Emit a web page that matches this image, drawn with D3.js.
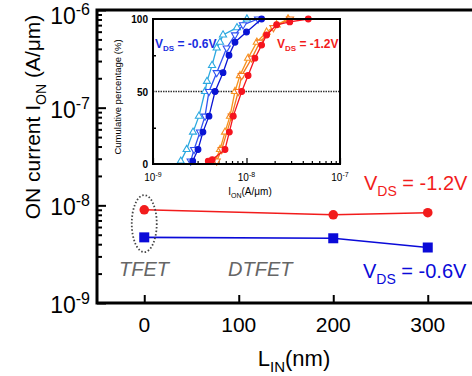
<!DOCTYPE html>
<html>
<head>
<meta charset="utf-8">
<script src="https://cdn.jsdelivr.net/npm/d3@7"></script>
<style>
  body { margin: 0; background: #fff; }
  svg { display: block; font-family: Arial, "Liberation Sans", sans-serif; }
</style>
</head>
<body>
<svg id="chart" width="472" height="376"></svg>
<script>
// main plot data
var lin = [0, 200, 300];
var ion12 = [9.0e-9, 8.0e-9, 8.4e-9];
var ion06 = [4.7e-9, 4.6e-9, 3.7e-9];
var xTicks = [0, 100, 200, 300];
var yDecades = [1e-9, 1e-8, 1e-7, 1e-6];
var yExp = ["-9", "-8", "-7", "-6"];

// inset: cumulative distributions (percent, current)
var cyanPct = [2, 10, 22, 33, 50, 57, 68, 80, 84, 89, 94, 100];
var cyanI = [1.98e-9, 2.29e-9, 2.68e-9, 3.10e-9, 3.60e-9, 3.78e-9, 4.28e-9, 4.80e-9, 5.21e-9, 5.61e-9, 7.91e-9, 1.01e-8];
var bluePct = [2, 10, 22, 33, 50, 63, 80, 89, 96, 100];
var blueI = [2.53e-9, 2.75e-9, 3.18e-9, 3.60e-9, 3.97e-9, 4.80e-9, 6.14e-9, 7.53e-9, 9.18e-9, 1.33e-8];
var navyPct = [2, 10, 22, 33, 50, 63, 75, 84, 91, 100];
var navyI = [2.66e-9, 3.03e-9, 3.42e-9, 3.97e-9, 4.61e-9, 5.61e-9, 6.50e-9, 7.53e-9, 1.00e-8, 1.45e-8];
var orangePct = [2, 10, 22, 33, 50, 61, 73, 84, 91, 96, 100];
var orangeI = [4.61e-9, 5.21e-9, 5.89e-9, 6.66e-9, 7.53e-9, 8.51e-9, 1.04e-8, 1.29e-8, 1.64e-8, 2.10e-8, 2.78e-8];
var amberPct = [2, 10, 33, 50, 61, 73, 84, 94, 100];
var amberI = [4.80e-9, 5.43e-9, 6.95e-9, 8.17e-9, 8.89e-9, 1.14e-8, 1.39e-8, 1.94e-8, 2.92e-8];
var redPct = [2, 3, 10, 22, 33, 50, 61, 73, 82, 89, 96, 98, 100];
var redI = [3.90e-9, 4.30e-9, 5.89e-9, 6.55e-9, 7.22e-9, 8.89e-9, 1.04e-8, 1.23e-8, 1.45e-8, 1.64e-8, 2.10e-8, 2.90e-8, 4.58e-8];
var insetXDecades = [1e-9, 1e-8, 1e-7];
var insetXExp = ["-9", "-8", "-7"];
var insetYTicks = [0, 50, 100];

var svg = d3.select("#chart");

// note: "top" is a reserved window property, so use mTop etc.
var mLeft = 97, mTop = 10, mBottom = 303, mRight = 475;
var x = d3.scaleLinear().domain([-50, 350]).range([mLeft, mRight]);
var y = d3.scaleLog().domain([1e-9, 1e-6]).range([mBottom, mTop]);

// minor ticks on the left axis
var minor = [];
yDecades.slice(0, 3).forEach(function(d) {
  for (var k = 2; k <= 9; k++) minor.push(d * k);
});

svg.append("g")
    .attr("transform", "translate(" + mLeft + ",0)")
    .call(d3.axisRight(y).tickValues(minor).tickSize(5).tickFormat(""))
    .call(function(g) { g.select(".domain").remove(); })
    .selectAll("line").attr("stroke-width", 2);

svg.append("g")
    .attr("transform", "translate(" + mLeft + ",0)")
    .call(d3.axisRight(y).tickValues(yDecades).tickSize(9).tickFormat(""))
    .call(function(g) { g.select(".domain").remove(); })
    .selectAll("line").attr("stroke-width", 2);

svg.append("g")
    .attr("transform", "translate(0," + mBottom + ")")
    .call(d3.axisTop(x).tickValues(xTicks).tickSize(8).tickFormat(""))
    .call(function(g) { g.select(".domain").remove(); })
    .selectAll("line").attr("stroke-width", 2);

// frame
svg.append("path")
    .attr("d", "M472," + mTop + "H" + mLeft + "V" + mBottom + "H472")
    .attr("fill", "none")
    .attr("stroke", "#000")
    .attr("stroke-width", 3);

// y tick labels with superscripts (top one nudged so it stays inside the page)
var yl = svg.append("g").selectAll("text")
  .data(yDecades)
  .enter().append("text")
    .attr("x", 90)
    .attr("y", function(d) { return Math.max(y(d) + 10, 24); })
    .attr("text-anchor", "end")
    .attr("font-size", "23px");
yl.append("tspan").text("10");
yl.append("tspan")
    .attr("dy", -9)
    .attr("font-size", "16px")
    .text(function(d, i) { return yExp[i]; });

svg.append("g").selectAll("text")
  .data(xTicks)
  .enter().append("text")
    .attr("x", function(d) { return x(d); })
    .attr("y", 332)
    .attr("text-anchor", "middle")
    .attr("font-size", "21px")
    .text(function(d) { return d; });

// axis titles
var xt = svg.append("text")
    .attr("x", 294)
    .attr("y", 366)
    .attr("text-anchor", "middle")
    .attr("font-size", "22px");
xt.append("tspan").text("L");
xt.append("tspan").attr("dy", 6).attr("font-size", "15px").text("IN");
xt.append("tspan").attr("dy", -6).text("(nm)");

var yt = svg.append("text")
    .attr("transform", "translate(40,117) rotate(-90)")
    .attr("text-anchor", "middle")
    .attr("font-size", "21px");
yt.append("tspan").text("ON current I");
yt.append("tspan").attr("dy", 6).attr("font-size", "14px").text("ON");
yt.append("tspan").attr("dy", -6).text(" (A/\u03bcm)");

// main series
var line = d3.line()
    .x(function(d) { return x(d[0]); })
    .y(function(d) { return y(d[1]); });

var red = lin.map(function(d, i) { return [d, ion12[i]]; });
var blue = lin.map(function(d, i) { return [d, ion06[i]]; });

svg.append("path").datum(red)
    .attr("d", line).attr("fill", "none").attr("stroke", "#f21c1c").attr("stroke-width", 1.6);
svg.append("path").datum(blue)
    .attr("d", line).attr("fill", "none").attr("stroke", "#0a0ad8").attr("stroke-width", 1.6);

svg.append("g").selectAll("circle")
  .data(red)
  .enter().append("circle")
    .attr("cx", function(d) { return x(d[0]); })
    .attr("cy", function(d) { return y(d[1]); })
    .attr("r", 4.8)
    .attr("fill", "#f21c1c");

svg.append("g").selectAll("rect")
  .data(blue)
  .enter().append("rect")
    .attr("x", function(d) { return x(d[0]) - 5; })
    .attr("y", function(d) { return y(d[1]) - 5; })
    .attr("width", 10)
    .attr("height", 10)
    .attr("fill", "#0a0ad8");

// dotted ellipse round the TFET points
svg.append("ellipse")
    .attr("cx", x(0))
    .attr("cy", (y(ion12[0]) + y(ion06[0])) / 2)
    .attr("rx", 12.5)
    .attr("ry", 28.5)
    .attr("fill", "none")
    .attr("stroke", "#444")
    .attr("stroke-width", 1.8)
    .attr("stroke-dasharray", "1.5,2");

svg.append("text")
    .attr("x", 119).attr("y", 276)
    .attr("font-size", "20px").attr("font-style", "italic").attr("fill", "#666")
    .text("TFET");
svg.append("text")
    .attr("x", 228).attr("y", 276)
    .attr("font-size", "20px").attr("font-style", "italic").attr("fill", "#666")
    .text("DTFET");

function vdsLabel(g, xx, yy, size, sub, val, color, weight) {
  var t = g.append("text")
      .attr("x", xx).attr("y", yy)
      .attr("font-size", size + "px")
      .attr("font-weight", weight)
      .attr("fill", color);
  t.append("tspan").text("V");
  t.append("tspan").attr("dy", size * 0.28).attr("font-size", sub + "px").text("DS");
  t.append("tspan").attr("dy", -size * 0.28).text(" = " + val);
}

vdsLabel(svg, 364, 190, 20, 14, "-1.2V", "#f21c1c", "normal");
vdsLabel(svg, 363, 278, 20, 14, "-0.6V", "#0a0ad8", "normal");

// ---------- inset ----------
var il = 153, ir = 340, it = 19, ib = 164;
var ix = d3.scaleLog().domain([1e-9, 1e-7]).range([il, ir]);
var iy = d3.scaleLinear().domain([0, 100]).range([ib, it]);
var inset = svg.append("g");

inset.append("rect")
    .attr("x", il).attr("y", it)
    .attr("width", ir - il).attr("height", ib - it)
    .attr("fill", "#fff");

var iminor = [];
insetXDecades.slice(0, 2).forEach(function(d) {
  for (var k = 2; k <= 9; k++) iminor.push(d * k);
});

inset.append("g")
    .attr("transform", "translate(0," + ib + ")")
    .call(d3.axisTop(ix).tickValues(iminor).tickSize(3).tickFormat(""))
    .call(function(g) { g.select(".domain").remove(); })
    .selectAll("line").attr("stroke-width", 1.2);
inset.append("g")
    .attr("transform", "translate(0," + ib + ")")
    .call(d3.axisTop(ix).tickValues(insetXDecades).tickSize(6).tickFormat(""))
    .call(function(g) { g.select(".domain").remove(); })
    .selectAll("line").attr("stroke-width", 1.2);
inset.append("g")
    .attr("transform", "translate(" + il + ",0)")
    .call(d3.axisRight(iy).tickValues([25, 75]).tickSize(3).tickFormat(""))
    .call(function(g) { g.select(".domain").remove(); })
    .selectAll("line").attr("stroke-width", 1.5);

inset.append("line")
    .attr("x1", il).attr("x2", ir)
    .attr("y1", iy(50)).attr("y2", iy(50))
    .attr("stroke", "#333")
    .attr("stroke-width", 1.6)
    .attr("stroke-dasharray", "1.5,1");

inset.append("g").selectAll("text")
  .data(insetYTicks)
  .enter().append("text")
    .attr("x", il - 5)
    .attr("y", function(d) { return iy(d) + 4; })
    .attr("text-anchor", "end")
    .attr("font-size", "10px")
    .attr("font-weight", "bold")
    .text(function(d) { return d; });

var ixl = inset.append("g").selectAll("text")
  .data(insetXDecades)
  .enter().append("text")
    .attr("x", function(d) { return ix(d); })
    .attr("y", 181)
    .attr("text-anchor", "middle")
    .attr("font-size", "10px");
ixl.append("tspan").text("10");
ixl.append("tspan").attr("dy", -4).attr("font-size", "7px")
    .text(function(d, i) { return insetXExp[i]; });

var ixt = inset.append("text")
    .attr("x", 250).attr("y", 195)
    .attr("text-anchor", "middle")
    .attr("font-size", "10px");
ixt.append("tspan").text("I");
ixt.append("tspan").attr("dy", 3).attr("font-size", "7px").text("ON");
ixt.append("tspan").attr("dy", -3).text("(A/\u03bcm)");

inset.append("text")
    .attr("transform", "translate(121,97) rotate(-90)")
    .attr("text-anchor", "middle")
    .attr("font-size", "9.5px")
    .text("Cumulative percentage (%)");

var curves = [
  {pct: cyanPct, cur: cyanI, color: "#2aa8e0", shape: "up", fill: false},
  {pct: bluePct, cur: blueI, color: "#2f52f2", shape: "down", fill: false},
  {pct: navyPct, cur: navyI, color: "#0a14d4", shape: "circle", fill: true},
  {pct: orangePct, cur: orangeI, color: "#f7941e", shape: "up", fill: false},
  {pct: amberPct, cur: amberI, color: "#f47a20", shape: "down", fill: false},
  {pct: redPct, cur: redI, color: "#f5141e", shape: "circle", fill: true}
];

var iline = d3.line()
    .x(function(d) { return ix(d[0]); })
    .y(function(d) { return iy(d[1]); });

curves.forEach(function(c) {
  var pts = c.cur.map(function(d, i) { return [d, c.pct[i]]; });
  inset.append("path").datum(pts)
      .attr("d", iline)
      .attr("fill", "none")
      .attr("stroke", c.color)
      .attr("stroke-width", 1.3);
  var sym = c.shape === "circle" ? d3.symbolCircle : d3.symbolTriangle;
  inset.append("g").selectAll("path")
    .data(pts)
    .enter().append("path")
      .attr("transform", function(d) {
        return "translate(" + ix(d[0]) + "," + iy(d[1]) + ")" + (c.shape === "down" ? " rotate(180)" : "");
      })
      .attr("d", d3.symbol().type(sym).size(c.fill ? 26 : 22))
      .attr("fill", c.fill ? c.color : "#fff")
      .attr("stroke", c.color)
      .attr("stroke-width", 1.1);
});

vdsLabel(inset, 155, 48, 12, 8, "-0.6V", "#1a2ee0", "bold");
vdsLabel(inset, 277, 48, 12, 8, "-1.2V", "#f21c1c", "bold");

inset.append("rect")
    .attr("x", il).attr("y", it)
    .attr("width", ir - il).attr("height", ib - it)
    .attr("fill", "none")
    .attr("stroke", "#000")
    .attr("stroke-width", 2);
</script>
</body>
</html>
